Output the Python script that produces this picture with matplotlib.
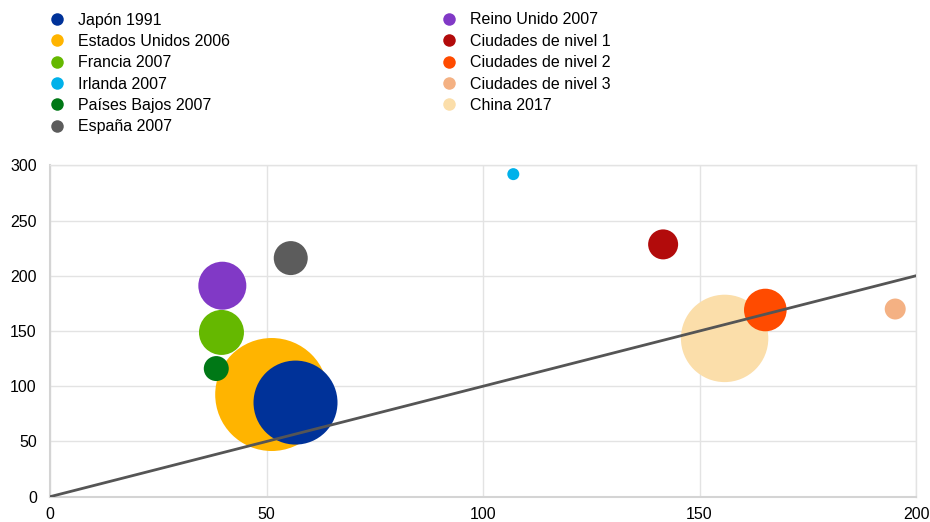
import numpy as np
import matplotlib
matplotlib.use('Agg')
import matplotlib.pyplot as plt
from matplotlib.lines import Line2D

plt.rcParams['font.family'] = ['Liberation Sans', 'DejaVu Sans']

# datos
nombres = ['Japón 1991', 'Estados Unidos 2006', 'Francia 2007', 'Irlanda 2007',
           'Países Bajos 2007', 'España 2007', 'Reino Unido 2007',
           'Ciudades de nivel 1', 'Ciudades de nivel 2', 'Ciudades de nivel 3', 'China 2017']
x_vals = [56.7, 51.2, 39.6, 107.0, 38.4, 55.6, 39.8, 141.6, 165.2, 195.2, 155.8]
y_vals = [85.2, 92.5, 148.7, 292.0, 116.0, 216.0, 191.0, 228.4, 169.0, 169.9, 143.3]
tamano = [1764, 3192, 506, 36, 156, 289, 576, 225, 454, 110, 1910]
colores = ['#003299', '#FFB400', '#65B800', '#00B1EA', '#007816', '#5C5C5C', '#8139C6',
           '#B20B0B', '#FF4B00', '#F4B183', '#FBDEAA']
linea_x = [0, 200]
linea_y = [0, 200]

fig = plt.figure(figsize=(9.3, 5.22), dpi=100)
ax = fig.add_axes([50/930, (522-496.7)/522, (916-50)/930, (496.7-165.3)/522])

# grandes primero para que los pequeños queden encima
orden = np.argsort(tamano)[::-1]
for i in orden:
    ax.scatter(x_vals[i], y_vals[i], s=tamano[i]*2.0736, color=colores[i],
               edgecolors='none', zorder=3)

ax.plot(linea_x, linea_y, color='#555555', lw=2, zorder=4)

ax.set_xlim(0, 200)
ax.set_ylim(0, 300)
ax.set_xticks([0, 50, 100, 150, 200])
ax.set_yticks([0, 50, 100, 150, 200, 250, 300])
ax.grid(True, color='#e3e3e3', lw=1, zorder=0)
ax.set_axisbelow(True)
for s in ['top', 'right']:
    ax.spines[s].set_color('#e3e3e3')
    ax.spines[s].set_linewidth(1)
for s in ['left', 'bottom']:
    ax.spines[s].set_color('#d4d4d4')
    ax.spines[s].set_linewidth(1.5)
ax.tick_params(length=0, labelsize=11.5, colors='black')
ax.tick_params(axis='x', pad=7.5)
ax.tick_params(axis='y', pad=9.5)

handles = [Line2D([], [], marker='o', ls='none', markersize=9, color=c, markeredgewidth=0)
           for c in colores]
opts = dict(loc='upper left', frameon=False, fontsize=11.5, handletextpad=0.8,
            labelspacing=0.4, handlelength=1.0, borderaxespad=0, borderpad=0)
fig.legend(handles[:6], nombres[:6], bbox_to_anchor=(49/930, 1 - 12.5/522), **opts)
fig.legend(handles[6:], nombres[6:], bbox_to_anchor=(441/930, 1 - 12.5/522), **opts)

fig.savefig('out.png', dpi=100)
